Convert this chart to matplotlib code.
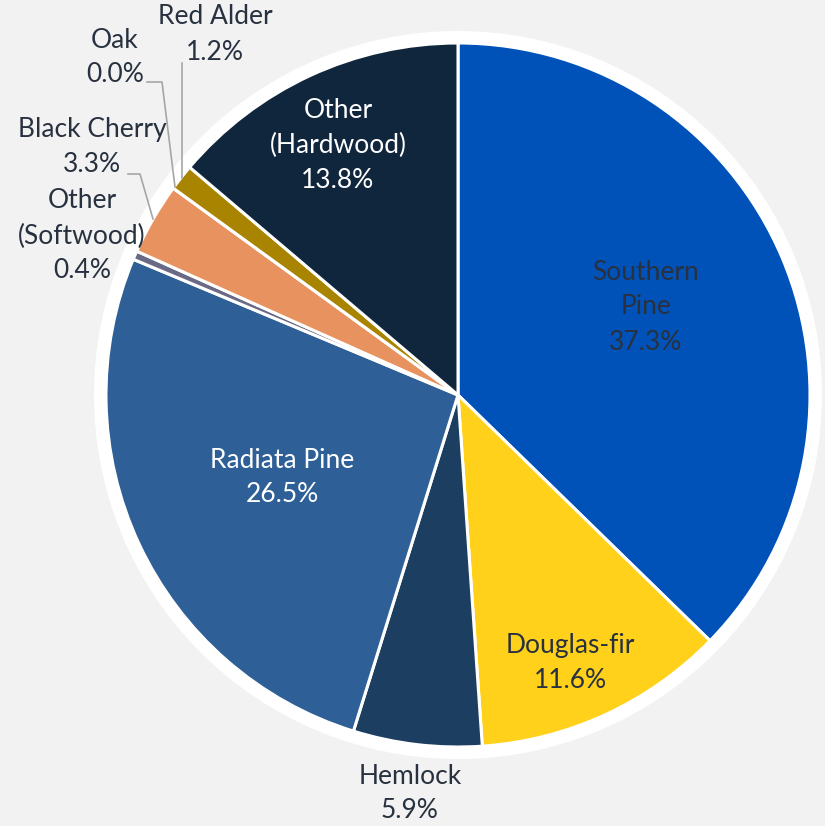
import matplotlib
matplotlib.use('Agg')
import matplotlib.pyplot as plt
from matplotlib.patches import Circle

# Wood species share (%), clockwise from 12 o'clock
species = ['Southern Pine', 'Douglas-fir', 'Hemlock', 'Radiata Pine',
           'Other (Softwood)', 'Black Cherry', 'Oak', 'Red Alder', 'Other (Hardwood)']
shares = [37.3, 11.6, 5.9, 26.5, 0.4, 3.3, 0.0, 1.2, 13.8]
colors = ['#0052B9', '#FFD11A', '#1B3E61', '#2E6097',
          '#6A6A86', '#E8935F', '#C9A227', '#A88400', '#10263D']

# label text lines per slice
label_lines = {
    'Southern Pine': ['Southern', 'Pine'],
    'Douglas-fir': ['Douglas-fir'],
    'Hemlock': ['Hemlock'],
    'Radiata Pine': ['Radiata Pine'],
    'Other (Softwood)': ['Other', '(Softwood)'],
    'Black Cherry': ['Black Cherry'],
    'Oak': ['Oak'],
    'Red Alder': ['Red Alder'],
    'Other (Hardwood)': ['Other', '(Hardwood)'],
}

W, H = 825, 826
CX, CY, R = 458, 395, 352   # pixel coords of pie (y from top)

plt.rcParams['font.family'] = ['Lato', 'DejaVu Sans']

fig = plt.figure(figsize=(W / 100, H / 100), dpi=100, facecolor='#F2F2F2')
ax = fig.add_axes([0, 0, 1, 1])


def py(y):
    return H - y


# white backdrop ring
ax.add_patch(Circle((CX, py(CY)), R + 12, facecolor='white', edgecolor='none', zorder=0))

ax.pie(shares, colors=colors, startangle=90, counterclock=False,
       center=(CX, py(CY)), radius=R, frame=True,
       wedgeprops=dict(edgecolor='white', linewidth=2.2))
ax.set_xlim(0, W)
ax.set_ylim(0, H)
ax.set_aspect('equal')
ax.axis('off')

dark = '#28313F'
line_h = 35
# (x, y of first line, text colour) per label, pixel coords
label_pos = {
    'Southern Pine': (646, 272, dark),
    'Douglas-fir': (570, 645, dark),
    'Hemlock': (410, 776, dark),
    'Radiata Pine': (282, 460, 'white'),
    'Other (Softwood)': (82, 201, dark),
    'Black Cherry': (92, 130, dark),
    'Oak': (115, 40, dark),
    'Red Alder': (215, 17, dark),
    'Other (Hardwood)': (338, 110, 'white'),
}

for name, val in zip(species, shares):
    x, y0, col = label_pos[name]
    lines = label_lines[name] + [f'{val:.1f}%']
    for i, t in enumerate(lines):
        ax.text(x, py(y0 + i * line_h), t, ha='center', va='center',
                fontsize=19, color=col, zorder=5)

# leader lines
lc = '#A6A6A6'
ax.plot([147, 162, 175], [py(82), py(82), py(187)], color=lc, lw=1.2, zorder=4)
ax.plot([182, 182], [py(63), py(178)], color=lc, lw=1.2, zorder=4)
ax.plot([128, 140, 153], [py(174), py(174), py(219)], color=lc, lw=1.2, zorder=4)

fig.savefig('out.png', dpi=100, facecolor=fig.get_facecolor())
